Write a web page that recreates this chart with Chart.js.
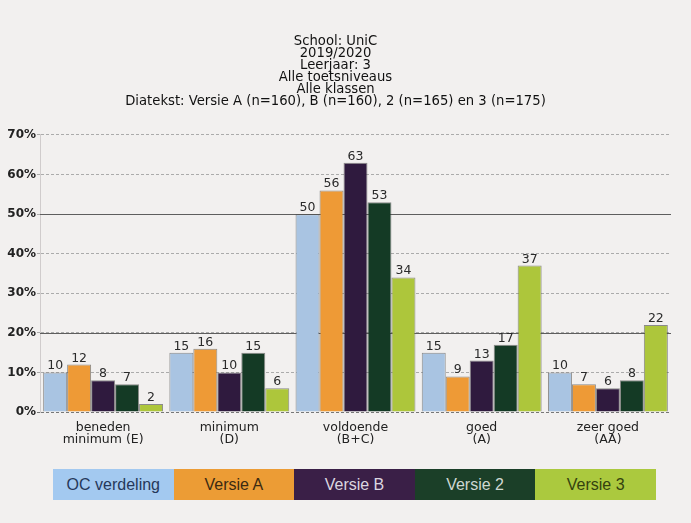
<!DOCTYPE html>
<html>
<head>
<meta charset="utf-8">
<script src="https://cdn.jsdelivr.net/npm/chart.js@4"></script>
<style>
  html, body { margin:0; padding:0; background:#f2f0ef; }
  #wrap { position:relative; width:691px; height:523px; }
  #c { position:absolute; left:0; top:0; }
  #legend { position:absolute; left:53px; top:469px; width:603px; height:31px; display:flex; }
  #legend div { flex:1; display:flex; align-items:center; justify-content:center;
    font-family:"Liberation Sans", Arial, sans-serif; font-size:16px; }
</style>
</head>
<body>
<div id="wrap">
  <canvas id="c" width="691" height="523"></canvas>
  <div id="legend"></div>
</div>
<script>
const titleLines = ["School: UniC", "2019/2020", "Leerjaar: 3", "Alle toetsniveaus", "Alle klassen",
  "Diatekst: Versie A (n=160), B (n=160), 2 (n=165) en 3 (n=175)"];
const categories = [["beneden", "minimum (E)"], ["minimum", "(D)"], ["voldoende", "(B+C)"], ["goed", "(A)"], ["zeer goed", "(AA)"]];
const seriesNames = ["OC verdeling", "Versie A", "Versie B", "Versie 2", "Versie 3"];
const ocVerdeling = [10, 15, 50, 15, 10];
const versieA = [12, 16, 56, 9, 7];
const versieB = [8, 10, 63, 13, 6];
const versie2 = [7, 15, 53, 17, 8];
const versie3 = [2, 6, 34, 37, 22];
const yTicks = [0, 10, 20, 30, 40, 50, 60, 70];
const solidLines = [20, 50];

const barColors = ["#a9c4e2", "#ee9a36", "#2f1a3e", "#143a25", "#adc63b"];
const legendColors = ["#a3c9f0", "#ec9c35", "#3a1f47", "#1b3f28", "#abc93e"];
const legendText = ["#26385a", "#3b2a12", "#dcd6e0", "#cfd8d2", "#34420f"];
const seriesData = [ocVerdeling, versieA, versieB, versie2, versie3];

const leg = document.getElementById('legend');
seriesNames.forEach((n, i) => {
  const d = document.createElement('div');
  d.textContent = n;
  d.style.background = legendColors[i];
  d.style.color = legendText[i];
  leg.appendChild(d);
});

const labelPlugin = {
  id: 'barLabels',
  afterDatasetsDraw(chart) {
    const ctx = chart.ctx;
    ctx.save();
    ctx.font = '12.5px "DejaVu Sans"';
    ctx.fillStyle = '#2a2a2a';
    ctx.textAlign = 'center';
    ctx.textBaseline = 'bottom';
    chart.data.datasets.forEach((ds, di) => {
      chart.getDatasetMeta(di).data.forEach((bar, i) => {
        ctx.fillText(String(ds.data[i]), bar.x, bar.y);
      });
    });
    ctx.restore();
  }
};

const solidGrid = {
  id: 'solidGrid',
  beforeDatasetsDraw(chart) {
    const ctx = chart.ctx, y = chart.scales.y, a = chart.chartArea;
    ctx.save();
    ctx.strokeStyle = '#5e5e5e';
    ctx.lineWidth = 1;
    solidLines.forEach(v => {
      const py = Math.round(y.getPixelForValue(v)) + 0.5;
      ctx.beginPath(); ctx.moveTo(a.left, py); ctx.lineTo(a.right, py); ctx.stroke();
    });
    ctx.restore();
  }
};

new Chart(document.getElementById('c'), {
  type: 'bar',
  data: {
    labels: categories,
    datasets: seriesNames.map((n, i) => ({
      label: n,
      data: seriesData[i],
      backgroundColor: barColors[i],
      borderColor: 'rgba(70,70,70,0.6)',
      borderWidth: 1,
      categoryPercentage: 0.95,
      barPercentage: 1.0
    }))
  },
  options: {
    responsive: false,
    animation: false,
    layout: { padding: { left: 0, right: 20, top: 0, bottom: 71 } },
    plugins: {
      legend: { display: false },
      tooltip: { enabled: false },
      title: {
        display: true,
        text: titleLines,
        color: '#111',
        font: { family: 'DejaVu Sans', size: 13.2, weight: 'normal', lineHeight: 0.9 },
        padding: { top: 36, bottom: 27.7 }
      }
    },
    scales: {
      x: {
        grid: { display: false },
        border: { display: false },
        ticks: { color: '#222', font: { family: 'DejaVu Sans', size: 12.5, lineHeight: 0.95 }, padding: 2, maxRotation: 0, autoSkip: false },
        afterFit(s) { s.height = 40; }
      },
      y: {
        min: 0, max: 70,
        afterBuildTicks(s) { s.ticks = yTicks.map(v => ({ value: v })); },
        ticks: { color: '#222', font: { family: 'DejaVu Sans', size: 12, weight: 'bold' }, padding: 1, callback: v => v + '%' },
        grid: {
          color: ctx => (ctx.tick && ctx.tick.value === 0) ? '#777' : '#ababab',
          lineWidth: 1,
          drawTicks: true,
          tickLength: 3
        },
        border: { display: true, color: '#d0cccc', dash: [3, 2] },
        afterFit(s) { s.width = 40; }
      }
    }
  },
  plugins: [labelPlugin, solidGrid]
});
</script>
</body>
</html>
